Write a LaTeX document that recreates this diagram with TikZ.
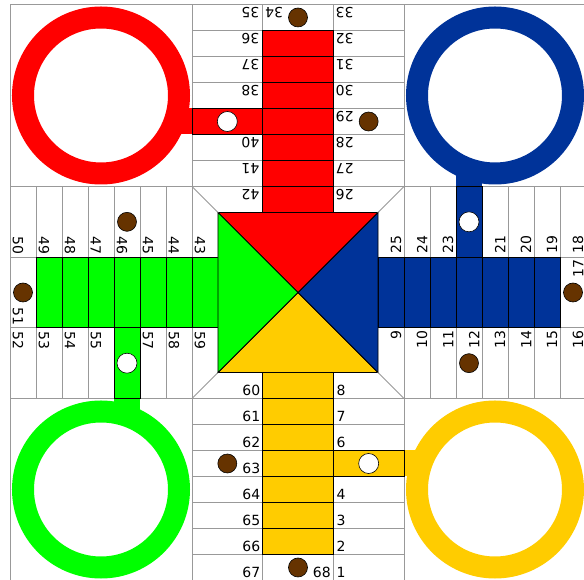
\documentclass[tikz,border=0pt]{standalone}
\usepackage{fontspec}
\setmainfont{DejaVu Sans}
\usepackage{xcolor}
\definecolor{parred}{RGB}{255,0,0}
\definecolor{parblue}{RGB}{0,51,153}
\definecolor{pargreen}{RGB}{0,255,0}
\definecolor{paryellow}{RGB}{255,204,0}
\definecolor{parbrown}{RGB}{102,51,0}

\begin{document}
\begin{tikzpicture}[x=1pt,y=1pt,line cap=round,font=\fontsize{14}{16}\selectfont,
  cell/.style={draw=gray!80,line width=0.8pt},
  lane/.style={draw=black,line width=0.8pt},
  num/.style={inner sep=1pt},
  seat/.style={draw=black,fill=parbrown,line width=0.6pt},
  safe/.style={draw=black,fill=white,line width=0.6pt}]
\useasboundingbox (-298,-287.5) rectangle (286,292.5);
\fill[white] (-298,-287.5) rectangle (286,292.5);
% one arm, turned four times
\foreach \i/\col in {0/paryellow,1/parblue,2/parred,3/pargreen}{
\begin{scope}[rotate=90*\i]
\fill[\col] (35.33,-184) rectangle (124,-158);
\foreach \k in {1,...,7}{
  \pgfmathsetmacro{\yt}{-80-26*\k}
  \pgfmathsetmacro{\yb}{-106-26*\k}
  \draw[cell] (-106,\yt) rectangle (-35.33,\yb);
  \draw[cell] (-35.33,\yt) rectangle (35.33,\yb);
  \draw[cell] (35.33,\yt) rectangle (106,\yb);
  \pgfmathtruncatemacro{\nl}{mod(59+\k+17*\i,68)+1}
  \node[num,anchor=south east,rotate=90*\i] (n\nl) at (-36.5,\yb+1.5) {\nl};
  \ifnum\k=3\else
    \pgfmathtruncatemacro{\nr}{mod(7-\k+17*\i,68)+1}
    \node[num,anchor=south west,rotate=90*\i] (n\nr) at (37.5,\yb+1.5) {\nr};
  \fi
}
\foreach \k in {1,...,6}
  \filldraw[lane,fill=\col] (-35.33,{-80-26*\k}) rectangle (35.33,{-106-26*\k});
\filldraw[lane,fill=\col] (35.33,-158) rectangle (106,-184);
\filldraw[lane,fill=\col] (-35.33,-106) rectangle (35.33,-80);
\filldraw[lane,fill=\col] (-80,-80) -- (80,-80) -- (0,0) -- cycle;
\draw[cell] (-106,-106) -- (-80,-80);
\pgfmathtruncatemacro{\na}{mod(59+17*\i,68)+1}
\pgfmathtruncatemacro{\nb}{mod(7+17*\i,68)+1}
\pgfmathtruncatemacro{\nc}{mod(67+17*\i,68)+1}
\node[num,anchor=south east,rotate=90*\i] (n\na) at (-36.5,-104.5) {\na};
\node[num,anchor=south west,rotate=90*\i] (n\nb) at (37.5,-104.5) {\nb};
\node[num,anchor=south east,rotate=90*\i] (n\nc) at (34,-286.5) {\nc};
\draw[\col,line width=22pt] (197,-197) circle (78);
\filldraw[seat] (-70.67,-171) circle (9.5);
\filldraw[seat] (0,-275) circle (9.5);
\filldraw[safe] (70.67,-171) circle (10);
\end{scope}
}
\draw[gray!80,line width=0.8pt] (-288,-288) rectangle (288,288);
\end{tikzpicture}
\end{document}
